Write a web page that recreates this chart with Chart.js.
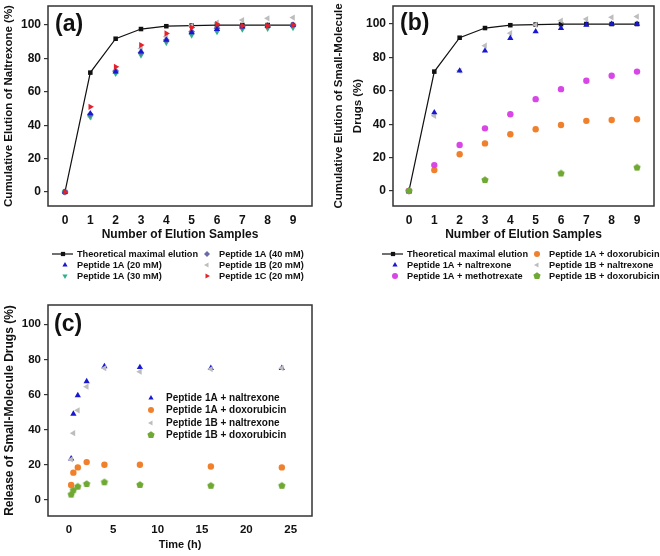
<!DOCTYPE html>
<html>
<head>
<meta charset="utf-8">
<script src="https://cdn.jsdelivr.net/npm/chart.js@4.4.1/dist/chart.umd.min.js"></script>
<style>
  body { margin: 0; background: #fff; width: 660px; height: 556px; position: relative; overflow: hidden; }
  canvas { position: absolute; }
</style>
</head>
<body>
<canvas id="chartA" width="330" height="285" style="left:0;top:0"></canvas>
<canvas id="chartB" width="330" height="285" style="left:330px;top:0"></canvas>
<canvas id="chartC" width="330" height="271" style="left:0;top:285px"></canvas>
<script>
// ---- data ----
const elutionSamples = [0, 1, 2, 3, 4, 5, 6, 7, 8, 9];
const theoretical = [0, 71.5, 91.8, 97.6, 99.3, 99.7, 99.9, 100, 100, 100];

// panel (a)
const nal1A20 = [0, 47, 72, 84, 91, 95.5, 97.5, 99, 99.5, 100];
const nal1A30 = [0, 45, 71, 82, 89.5, 94, 96, 97.5, 98, 98.5];
const nal1A40 = [0, 46.5, 72.5, 83.5, 91, 96, 98, 99, 99.5, 100];
const nal1B20 = [0, 45, 72, 86, 93, 99.5, 101.5, 103, 104, 104.5];
const nal1C20 = [0, 51, 75, 88, 95, 98.5, 100.5, 99.5, 99.5, 100];

// panel (b)
const b1ANaltrexone = [0, 47, 72, 84, 91.5, 95.5, 97.5, 99.5, 100, 100];
const b1AMethotrexate = [0, 15.5, 27.5, 37.5, 46, 55, 61, 66, 69, 71.5];
const b1ADoxorubicin = [0, 12.5, 22, 28.5, 34, 37, 39.5, 42, 42.5, 43];
const b1BNaltrexone = [0, 45, 72, 87, 94.5, 99.5, 102, 103, 104, 104.5];
const b1BDoxSamples = [0, 3, 6, 9];
const b1BDoxorubicin = [0, 6.5, 10.5, 14];

// panel (c)
const releaseTimes = [0.25, 0.5, 1, 2, 4, 8, 16, 24];
const c1ANaltrexone = [23.5, 49, 59.5, 67.5, 76, 75.5, 75, 75];
const c1ADoxorubicin = [8.5, 15.5, 18.5, 21.5, 20, 20, 19, 18.5];
const c1BNaltrexone = [23, 38, 51, 64.5, 75, 73, 74.5, 75];
const c1BDoxorubicin = [3, 5.5, 7.5, 9, 10, 8.5, 8, 8];

const percentTicks = [0, 20, 40, 60, 80, 100];
const timeTicks = [0, 5, 10, 15, 20, 25];

// ---- styling helpers ----
const FONT = "'Liberation Sans', Arial, sans-serif";
const TEXT = "#111";
const FRAME = "#333";

function pentagon(color, r) {
    const c = document.createElement("canvas");
    const s = Math.ceil(r * 2 + 2);
    c.width = s; c.height = s;
    const g = c.getContext("2d");
    g.fillStyle = color;
    g.beginPath();
    for (let i = 0; i < 5; i++) {
        const a = -Math.PI / 2 + i * 2 * Math.PI / 5;
        const px = s / 2 + r * Math.cos(a), py = s / 2 + r * Math.sin(a);
        if (i === 0) g.moveTo(px, py); else g.lineTo(px, py);
    }
    g.closePath();
    g.fill();
    return c;
}

const pentaGreen = pentagon("#6fa832", 3.8);

function pts(xs, ys) {
    return xs.map((x, i) => ({ x: x, y: ys[i] }));
}

function markerSet(label, xs, ys, color, style, rotation, radius, order) {
    return {
        label: label,
        data: pts(xs, ys),
        showLine: false,
        pointStyle: style,
        rotation: rotation || 0,
        pointRadius: radius || 3.5,
        backgroundColor: color,
        borderColor: color,
        borderWidth: 0,
        order: order,
    };
}

function theoreticalSet() {
    return {
        label: "Theoretical maximal elution",
        data: pts(elutionSamples, theoretical),
        showLine: true,
        borderColor: "#111",
        backgroundColor: "#111",
        borderWidth: 1.2,
        pointStyle: "rect",
        pointRadius: 3.2,
        pointBorderWidth: 0,
        order: 20,
    };
}

// frame, panel label and hand-placed legend
const panelDecor = {
    id: "panelDecor",
    beforeDatasetsDraw(chart, args, opts) {
        const { ctx, chartArea: a } = chart;
        ctx.save();
        ctx.strokeStyle = FRAME;
        ctx.lineWidth = 1.5;
        ctx.strokeRect(a.left, a.top, a.right - a.left, a.bottom - a.top);
        ctx.restore();
    },
    afterDraw(chart, args, opts) {
        const ctx = chart.ctx;
        ctx.save();
        ctx.fillStyle = TEXT;
        ctx.font = "bold 23px " + FONT;
        ctx.textBaseline = "middle";
        ctx.fillText(opts.label, opts.labelX, opts.labelY);

        ctx.font = "bold " + opts.legendSize + "px " + FONT;
        (opts.legend || []).forEach((it) => {
            const ds = chart.data.datasets[it.ds];
            ctx.fillStyle = ds.backgroundColor;
            ctx.strokeStyle = ds.borderColor;
            if (ds.showLine) {
                ctx.lineWidth = 1.2;
                ctx.beginPath();
                ctx.moveTo(it.x - 11, it.y);
                ctx.lineTo(it.x + 10, it.y);
                ctx.stroke();
            }
            Chart.helpers.drawPoint(ctx, {
                pointStyle: ds.pointStyle,
                rotation: ds.rotation || 0,
                radius: 3,
                borderWidth: 0,
            }, it.x, it.y);
            ctx.fillStyle = TEXT;
            ctx.fillText(ds.label, it.tx, it.y);
        });
        ctx.restore();
    },
};

function buildOptions(cfg) {
    return {
        responsive: false,
        animation: false,
        layout: { padding: cfg.padding },
        plugins: {
            legend: { display: false },
            tooltip: { enabled: false },
            panelDecor: cfg.decor,
        },
        scales: {
            x: {
                type: "linear",
                min: cfg.xMin,
                max: cfg.xMax,
                afterBuildTicks: (s) => { s.ticks = cfg.xTicks.map((v) => ({ value: v })); },
                afterFit: (s) => { s.height = 40; s.paddingLeft = 0; s.paddingRight = 0; },
                grid: { display: false, drawTicks: false, tickLength: 0 },
                border: { display: false },
                ticks: { color: TEXT, padding: cfg.xTickPad, font: { family: FONT, size: cfg.tickSize, weight: "bold" } },
                title: {
                    display: true,
                    text: cfg.xTitle,
                    color: TEXT,
                    padding: { top: 0, bottom: 4 },
                    font: { family: FONT, size: cfg.xTitleSize, weight: "bold" },
                },
            },
            y: {
                min: cfg.yMin,
                max: cfg.yMax,
                afterBuildTicks: (s) => { s.ticks = percentTicks.map((v) => ({ value: v })); },
                afterFit: (s) => { s.width = cfg.yWidth; s.paddingTop = 0; s.paddingBottom = 0; },
                grid: { display: true, drawOnChartArea: false, drawTicks: true, tickLength: 4, color: FRAME, lineWidth: 1.2 },
                border: { display: false },
                ticks: { color: TEXT, padding: 3, font: { family: FONT, size: cfg.tickSize, weight: "bold" } },
                title: {
                    display: true,
                    text: cfg.yTitle,
                    color: TEXT,
                    padding: { top: cfg.yTitlePad, bottom: 0 },
                    font: { family: FONT, size: cfg.yTitleSize, weight: "bold", lineHeight: cfg.yTitleLH || 1.2 },
                },
            },
        },
    };
}

// ---- panel (a) ----
new Chart(document.getElementById("chartA"), {
    type: "scatter",
    data: {
        datasets: [
            theoreticalSet(),
            markerSet("Peptide 1A (20 mM)", elutionSamples, nal1A20, "#1818d0", "triangle", 0, 3.6, 3),
            markerSet("Peptide 1A (30 mM)", elutionSamples, nal1A30, "#2fb08c", "triangle", 180, 3.6, 5),
            markerSet("Peptide 1A (40 mM)", elutionSamples, nal1A40, "#6a6aa8", "rectRot", 0, 3.4, 4),
            markerSet("Peptide 1B (20 mM)", elutionSamples, nal1B20, "#bdbdbd", "triangle", -90, 3.6, 6),
            markerSet("Peptide 1C (20 mM)", elutionSamples, nal1C20, "#e5222a", "triangle", 90, 3.6, 2),
        ],
    },
    options: buildOptions({
        padding: { left: 0, top: 6, right: 18, bottom: 39 },
        xMin: -0.67, xMax: 9.75, xTicks: elutionSamples, xTickPad: 7,
        yMin: -8.4, yMax: 111.4, yWidth: 48,
        tickSize: 12, xTitleSize: 12, yTitleSize: 11.5, yTitlePad: 2,
        xTitle: "Number of Elution Samples",
        yTitle: "Cumulative Elution of Naltrexone (%)",
        decor: {
            label: "(a)", labelX: 55, labelY: 25, legendSize: 9.2,
            legend: [
                { ds: 0, x: 63, tx: 77, y: 254 },
                { ds: 1, x: 65, tx: 77, y: 265 },
                { ds: 2, x: 65, tx: 77, y: 276 },
                { ds: 3, x: 207, tx: 219, y: 254 },
                { ds: 4, x: 207, tx: 219, y: 265 },
                { ds: 5, x: 207, tx: 219, y: 276 },
            ],
        },
    }),
    plugins: [panelDecor],
});

// ---- panel (b) ----
new Chart(document.getElementById("chartB"), {
    type: "scatter",
    data: {
        datasets: [
            theoreticalSet(),
            markerSet("Peptide 1A + naltrexone", elutionSamples, b1ANaltrexone, "#1818d0", "triangle", 0, 3.6, 2),
            markerSet("Peptide 1A + methotrexate", elutionSamples, b1AMethotrexate, "#d846e6", "circle", 0, 3.2, 4),
            markerSet("Peptide 1A + doxorubicin", elutionSamples, b1ADoxorubicin, "#f0802c", "circle", 0, 3.2, 5),
            markerSet("Peptide 1B + naltrexone", elutionSamples, b1BNaltrexone, "#bdbdbd", "triangle", -90, 3.6, 3),
            markerSet("Peptide 1B + doxorubicin", b1BDoxSamples, b1BDoxorubicin, "#6fa832", pentaGreen, 0, 3.6, 1),
        ],
    },
    options: buildOptions({
        padding: { left: 0, top: 6, right: 6, bottom: 39 },
        xMin: -0.63, xMax: 9.67, xTicks: elutionSamples, xTickPad: 7,
        yMin: -9, yMax: 110.8, yWidth: 63,
        tickSize: 12, xTitleSize: 12, yTitleSize: 11.5, yTitlePad: 0, yTitleLH: 1.6,
        xTitle: "Number of Elution Samples",
        yTitle: ["Cumulative Elution of Small-Molecule", "Drugs (%)"],
        decor: {
            label: "(b)", labelX: 70, labelY: 24, legendSize: 9.2,
            legend: [
                { ds: 0, x: 63, tx: 77, y: 254 },
                { ds: 1, x: 65, tx: 77, y: 265 },
                { ds: 2, x: 65, tx: 77, y: 276 },
                { ds: 3, x: 207, tx: 219, y: 254 },
                { ds: 4, x: 207, tx: 219, y: 265 },
                { ds: 5, x: 207, tx: 219, y: 276 },
            ],
        },
    }),
    plugins: [panelDecor],
});

// ---- panel (c) ----
new Chart(document.getElementById("chartC"), {
    type: "scatter",
    data: {
        datasets: [
            markerSet("Peptide 1A + naltrexone", releaseTimes, c1ANaltrexone, "#1818d0", "triangle", 0, 3.6, 2),
            markerSet("Peptide 1A + doxorubicin", releaseTimes, c1ADoxorubicin, "#f0802c", "circle", 0, 3.2, 3),
            markerSet("Peptide 1B + naltrexone", releaseTimes, c1BNaltrexone, "#bdbdbd", "triangle", -90, 3.6, 1),
            markerSet("Peptide 1B + doxorubicin", releaseTimes, c1BDoxorubicin, "#6fa832", pentaGreen, 0, 3.6, 4),
        ],
    },
    options: buildOptions({
        padding: { left: 0, top: 20, right: 18, bottom: 0 },
        xMin: -2.36, xMax: 27.4, xTicks: timeTicks, xTickPad: 7,
        yMin: -9.2, yMax: 111, yWidth: 48,
        tickSize: 11.5, xTitleSize: 11, yTitleSize: 12, yTitlePad: 2,
        xTitle: "Time (h)",
        yTitle: "Release of Small-Molecule Drugs (%)",
        decor: {
            label: "(c)", labelX: 54, labelY: 40, legendSize: 10,
            legend: [
                { ds: 0, x: 151, tx: 166, y: 113 },
                { ds: 1, x: 151, tx: 166, y: 125 },
                { ds: 2, x: 151, tx: 166, y: 138 },
                { ds: 3, x: 151, tx: 166, y: 150 },
            ],
        },
    }),
    plugins: [panelDecor],
});
</script>
</body>
</html>
